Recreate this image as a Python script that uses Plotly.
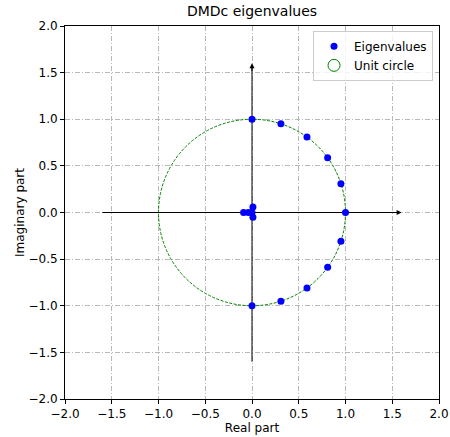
import plotly.graph_objects as go

# Eigenvalues
eig_real = [1.0, 0.951, 0.809, 0.588, 0.309, 0.0, 0.951, 0.809, 0.588, 0.309, 0.0,
            -0.09, -0.04, 0.01, 0.01, 0.0]
eig_imag = [0.0, 0.309, 0.588, 0.809, 0.951, 1.0, -0.309, -0.588, -0.809, -0.951, -1.0,
            0.0, 0.0, 0.06, -0.05, 0.0]
tick_vals = [-2.0, -1.5, -1.0, -0.5, 0.0, 0.5, 1.0, 1.5, 2.0]
tick_text = ["\u22122.0", "\u22121.5", "\u22121.0", "\u22120.5", "0.0", "0.5", "1.0", "1.5", "2.0"]
axis_span = 1.6

fig = go.Figure()
fig.add_trace(go.Scatter(x=eig_real, y=eig_imag, mode="markers", name="Eigenvalues",
                         marker=dict(color="blue", size=7)))
fig.add_shape(type="circle", xref="x", yref="y", x0=-1, y0=-1, x1=1, y1=1,
              line=dict(color="green", width=1, dash="3px,1.5px"),
              showlegend=True, name="Unit circle", layer="between")

# axis lines (below markers) + arrow heads
fig.add_shape(type="line", xref="x", yref="y", x0=-axis_span, y0=0, x1=axis_span - 0.05, y1=0,
              line=dict(color="black", width=1), layer="between")
fig.add_shape(type="line", xref="x", yref="y", x0=0, y0=-axis_span, x1=0, y1=axis_span - 0.05,
              line=dict(color="black", width=1), layer="between")
fig.add_annotation(x=axis_span, y=0, ax=axis_span - 0.1, ay=0, xref="x", yref="y", axref="x", ayref="y",
                   showarrow=True, arrowhead=2, arrowsize=1, arrowwidth=1, arrowcolor="black", text="")
fig.add_annotation(x=0, y=axis_span, ax=0, ay=axis_span - 0.1, xref="x", yref="y", axref="x", ayref="y",
                   showarrow=True, arrowhead=2, arrowsize=1, arrowwidth=1, arrowcolor="black", text="")

axis_common = dict(range=[-2, 2], tickvals=tick_vals, ticktext=tick_text, showgrid=True,
                   gridcolor="#b8b8b8", griddash="5px,2px,1px,2px", gridwidth=0.8,
                   showline=True, linecolor="black", linewidth=1, mirror=True,
                   ticks="outside", ticklen=4, tickcolor="black", zeroline=False,
                   automargin=False, tickfont=dict(size=12, color="black"))
fig.update_xaxes(**axis_common, title=dict(text="Real part", font=dict(size=12, color="black"), standoff=0))
fig.update_yaxes(**axis_common, title=dict(text="Imaginary part", font=dict(size=12, color="black"), standoff=1))

fig.update_layout(
    width=450, height=437,
    margin=dict(l=65, r=11, t=26, b=38),
    plot_bgcolor="white", paper_bgcolor="white",
    font=dict(family="DejaVu Sans", color="black", size=12),
    title=dict(text="DMDc eigenvalues", x=0.56, xanchor="center", y=0.985, yanchor="top",
               font=dict(size=14, color="black")),
    legend=dict(x=0.984, y=0.987, xanchor="right", yanchor="top", bgcolor="rgba(255,255,255,0.8)",
                bordercolor="#cccccc", borderwidth=1, font=dict(size=12)),
    showlegend=True,
)
fig.write_html("out.html")
